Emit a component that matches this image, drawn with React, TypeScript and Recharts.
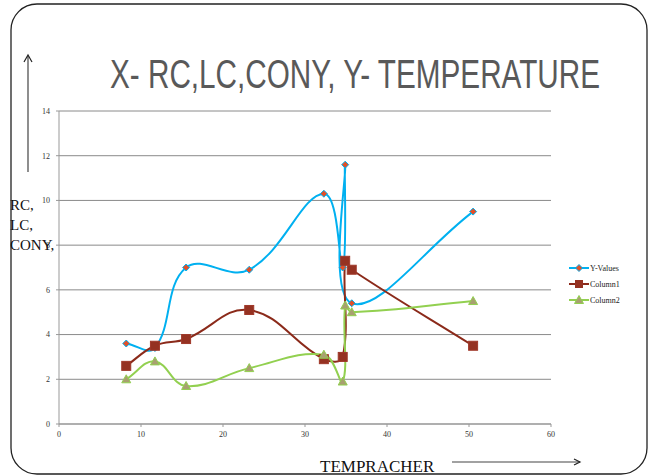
import { LineChart, Line, XAxis, YAxis, CartesianGrid } from "recharts";

// shared X values (temperature) for all three series
const xValues = [8.2, 11.7, 15.5, 23.2, 32.3, 34.6, 34.9, 35.7, 50.5];
const yValues = [3.6, 3.4, 7.0, 6.9, 10.3, 7.0, 11.6, 5.4, 9.5];
const column1 = [2.6, 3.5, 3.8, 5.1, 2.9, 3.0, 7.3, 6.9, 3.5];
const column2 = [2.0, 2.8, 1.7, 2.5, 3.1, 1.9, 5.3, 5.0, 5.5];

const xTicks = [0, 10, 20, 30, 40, 50, 60];
const yTicks = [0, 2, 4, 6, 8, 10, 12, 14];

const seriesNames = ["Y-Values", "Column1", "Column2"];

const rows = xValues.map((x, i) => ({
  x,
  yv: yValues[i],
  c1: column1[i],
  c2: column2[i],
}));

// excel-like smooth line: tangents scaled by neighbour segment lengths so short hops don't loop
const smoothCurve = (context: any) => {
  let pts: number[][] = [];
  const t = 0.4;
  const dist = (a: number[], b: number[]) => Math.hypot(b[0] - a[0], b[1] - a[1]) || 1e-6;
  return {
    areaStart() {},
    areaEnd() {},
    lineStart() {
      pts = [];
    },
    point(x: number, y: number) {
      pts.push([+x, +y]);
    },
    lineEnd() {
      if (!pts.length) return;
      context.moveTo(pts[0][0], pts[0][1]);
      for (let i = 0; i < pts.length - 1; i++) {
        const p0 = pts[i - 1] || pts[i];
        const p1 = pts[i];
        const p2 = pts[i + 1];
        const p3 = pts[i + 2] || p2;
        const d01 = i > 0 ? dist(p0, p1) : 0;
        const d12 = dist(p1, p2);
        const d23 = i + 2 < pts.length ? dist(p2, p3) : 0;
        const f1 = (t * d12) / (d01 + d12);
        const f2 = (t * d12) / (d12 + d23);
        context.bezierCurveTo(
          p1[0] + (p2[0] - p0[0]) * f1,
          p1[1] + (p2[1] - p0[1]) * f1,
          p2[0] - (p3[0] - p1[0]) * f2,
          p2[1] - (p3[1] - p1[1]) * f2,
          p2[0],
          p2[1]
        );
      }
    },
  };
};

const Diamond = (props: any) => {
  const { cx, cy } = props;
  if (cx == null || cy == null) return null;
  return (
    <path
      d={`M${cx},${cy - 3.5}L${cx + 3.5},${cy}L${cx},${cy + 3.5}L${cx - 3.5},${cy}Z`}
      fill="#e0502a"
      stroke="#00b0f0"
      strokeWidth={1}
    />
  );
};

const Square = (props: any) => {
  const { cx, cy } = props;
  if (cx == null || cy == null) return null;
  return <rect x={cx - 4.5} y={cy - 4.5} width={9} height={9} fill="#953222" stroke="#a0392a" />;
};

const Triangle = (props: any) => {
  const { cx, cy } = props;
  if (cx == null || cy == null) return null;
  return (
    <path
      d={`M${cx},${cy - 4.5}L${cx + 4.5},${cy + 3.5}L${cx - 4.5},${cy + 3.5}Z`}
      fill="#a8a070"
      stroke="#92d050"
      strokeWidth={1}
    />
  );
};

const tickStyle = { fontSize: 8, fill: "#333", fontFamily: "Liberation Serif, serif" };

const legendColors = ["#00b0f0", "#8b2a1a", "#92d050"];

export default function App() {
  return (
    <div style={{ position: "absolute", left: 0, top: 0, width: 649, height: 475, background: "#fff" }}>
      <svg width={649} height={475} style={{ position: "absolute", left: 0, top: 0 }}>
        <rect x={11} y={4} width={636} height={470} rx={26} ry={26} fill="#fff" stroke="#222" strokeWidth={1.3} />
      </svg>
      <div style={{ position: "absolute", left: 0, top: 0 }}>
        <LineChart width={649} height={475} data={rows} margin={{ top: 111, right: 98, bottom: 31, left: 29 }}>
          <CartesianGrid horizontal vertical={false} stroke="#8a8a8a" strokeWidth={1} />
          <XAxis
            type="number"
            dataKey="x"
            domain={[0, 60]}
            ticks={xTicks}
            tick={tickStyle}
            tickSize={3}
            tickMargin={4}
            stroke="#999"
            height={20}
          />
          <YAxis
            type="number"
            domain={[0, 14]}
            ticks={yTicks}
            tick={tickStyle}
            tickSize={3}
            tickMargin={6}
            stroke="#999"
            width={30}
          />
          <Line
            dataKey="yv"
            name={seriesNames[0]}
            type={smoothCurve as any}
            stroke="#00b0f0"
            strokeWidth={2}
            dot={<Diamond />}
            isAnimationActive={false}
          />
          <Line
            dataKey="c1"
            name={seriesNames[1]}
            type={smoothCurve as any}
            stroke="#8b2a1a"
            strokeWidth={2}
            dot={<Square />}
            isAnimationActive={false}
          />
          <Line
            dataKey="c2"
            name={seriesNames[2]}
            type={smoothCurve as any}
            stroke="#92d050"
            strokeWidth={2}
            dot={<Triangle />}
            isAnimationActive={false}
          />
        </LineChart>
      </div>
      <svg width={649} height={475} style={{ position: "absolute", left: 0, top: 0, pointerEvents: "none" }}>
        <text
          x={110}
          y={88}
          fontSize={40}
          fill="#595959"
          fontFamily="Liberation Sans Narrow, Arial Narrow, sans-serif"
          textLength={490}
          lengthAdjust="spacingAndGlyphs"
        >
          X- RC,LC,CONY, Y- TEMPERATURE
        </text>
        <line x1={28} y1={172} x2={28} y2={56} stroke="#444" strokeWidth={1.2} />
        <path d="M24,62 L28,55 L32,62" fill="none" stroke="#222" strokeWidth={1.2} />
        <g fontFamily="Liberation Serif, serif" fontSize={15} fill="#111">
          <text x={10} y={210}>RC,</text>
          <text x={10} y={230}>LC,</text>
          <text x={10} y={250}>CONY,</text>
        </g>
        {/* legend */}
        <g fontFamily="Liberation Serif, serif" fontSize={8} fill="#222">
          {seriesNames.map((name, i) => {
            const y = 268 + i * 16;
            return (
              <g key={name}>
                <line x1={569} y1={y} x2={589} y2={y} stroke={legendColors[i]} strokeWidth={2} />
                {i === 0 && <Diamond cx={579} cy={y} />}
                {i === 1 && <rect x={575} y={y - 4} width={8} height={8} fill="#953222" />}
                {i === 2 && <Triangle cx={579} cy={y} />}
                <text x={590} y={y + 3}>{name}</text>
              </g>
            );
          })}
        </g>
        <text x={320} y={472} fontFamily="Liberation Serif, serif" fontSize={17} fill="#111">
          TEMPRACHER
        </text>
        <line x1={452} y1={462} x2={580} y2={462} stroke="#444" strokeWidth={1.2} />
        <path d="M574,459 L580,462 L574,465" fill="none" stroke="#222" strokeWidth={1.2} />
      </svg>
    </div>
  );
}
